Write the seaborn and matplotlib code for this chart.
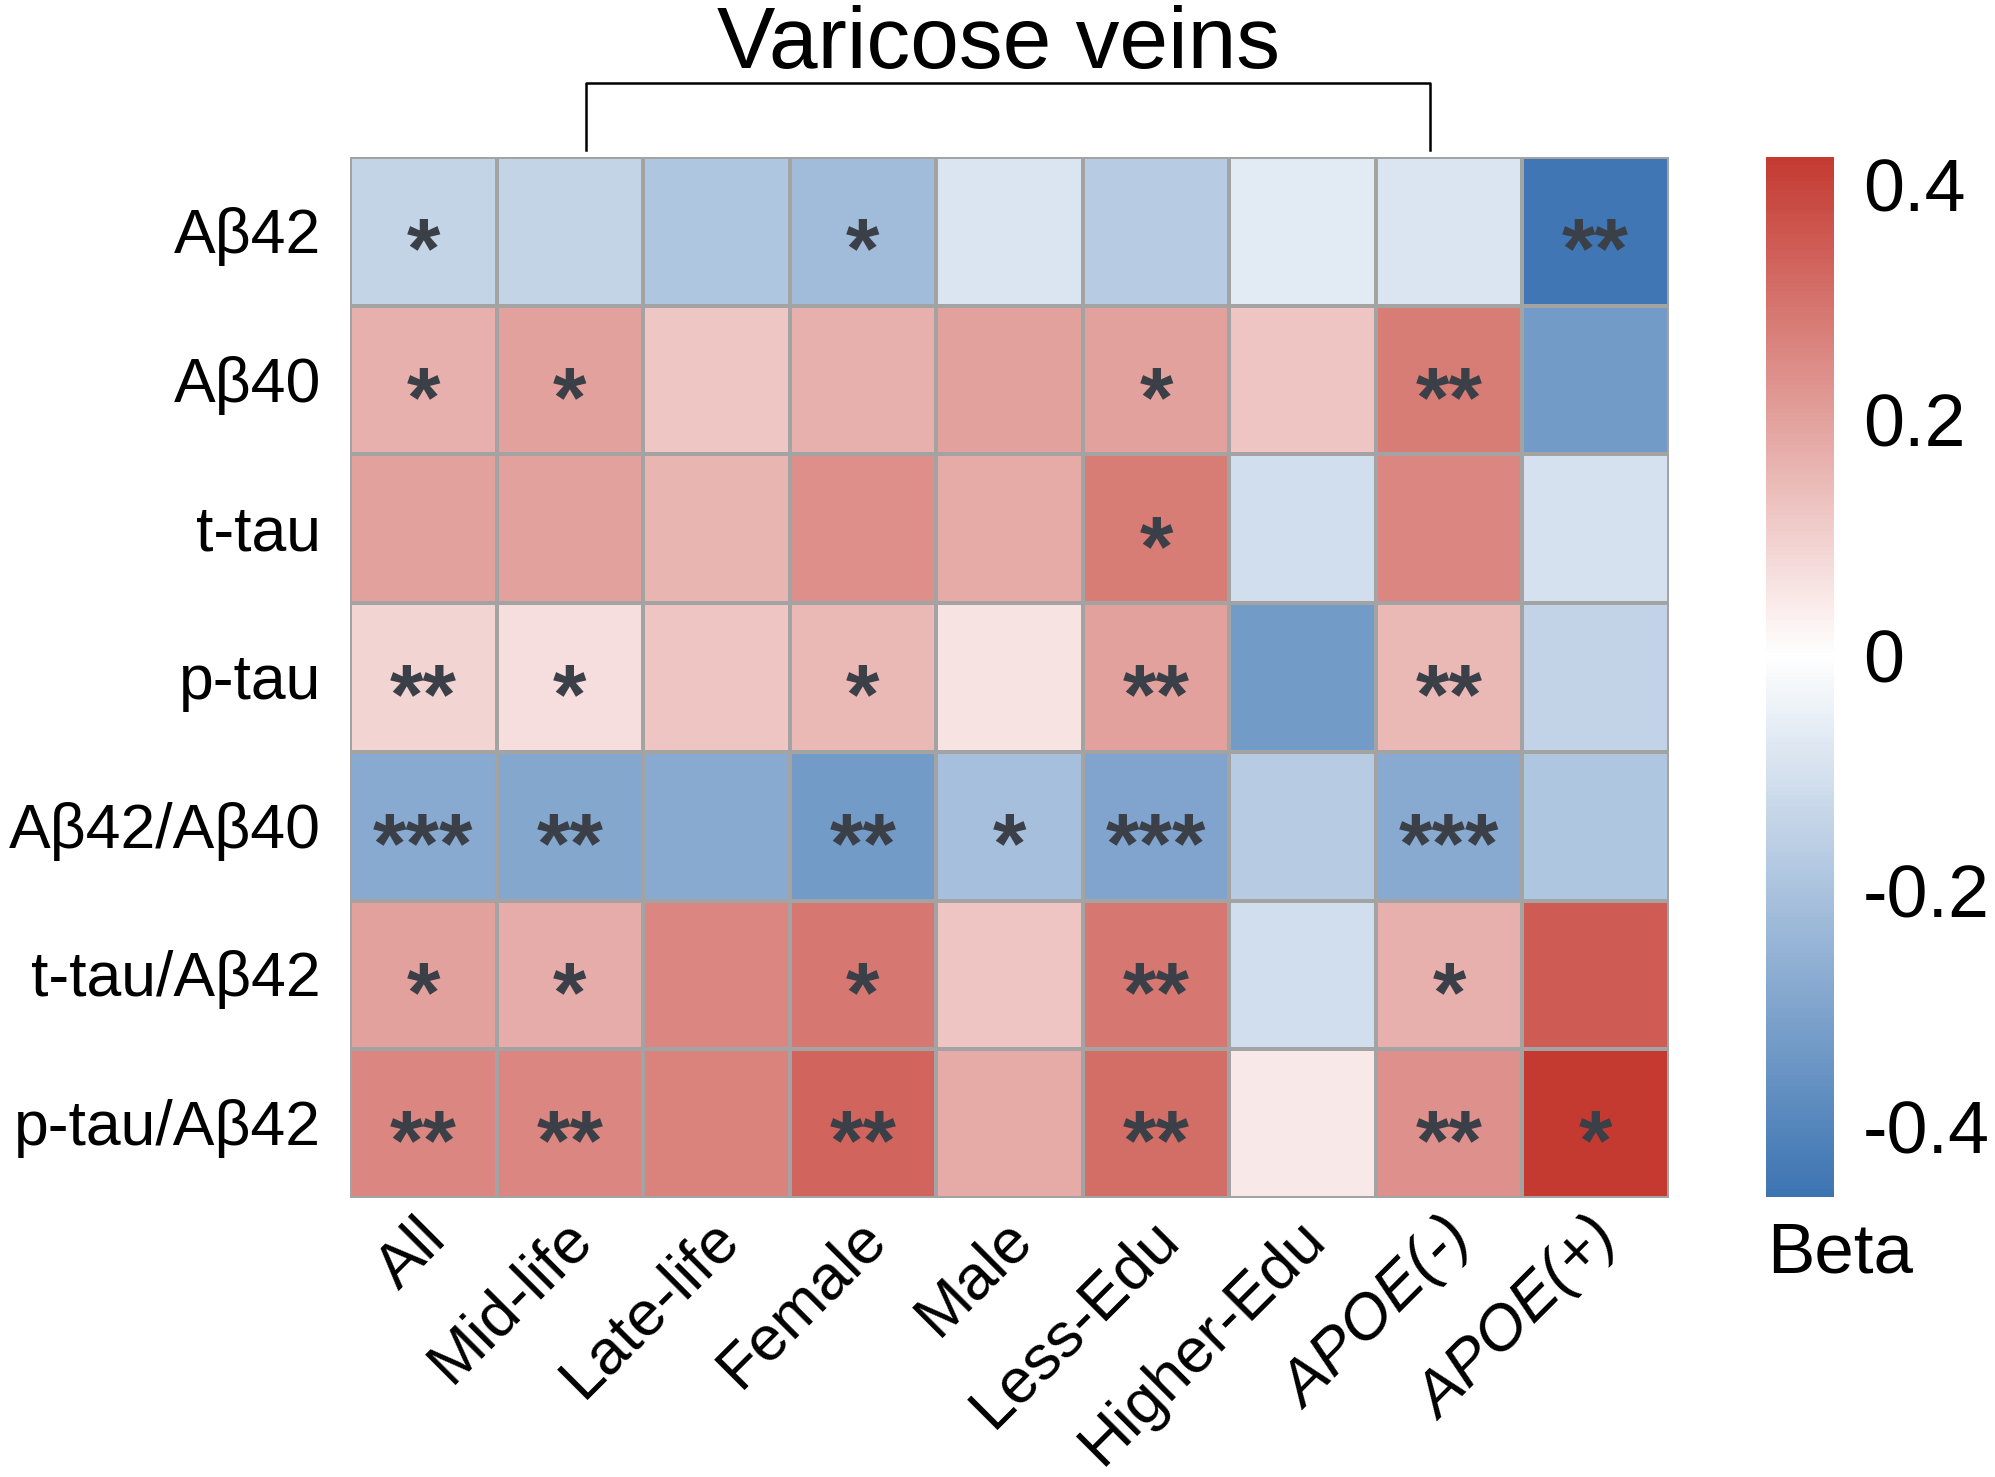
import numpy as np
import pandas as pd
import matplotlib
matplotlib.use("Agg")
import matplotlib.pyplot as plt
from matplotlib.colors import LinearSegmentedColormap
from matplotlib.transforms import ScaledTranslation
import seaborn as sns

# biomarkers (rows) and subgroups (columns)
markers = ["Aβ42", "Aβ40", "t-tau", "p-tau", "Aβ42/Aβ40", "t-tau/Aβ42", "p-tau/Aβ42"]
groups = ["All", "Mid-life", "Late-life", "Female", "Male", "Less-Edu", "Higher-Edu",
          "APOE(-)", "APOE(+)"]

# beta estimates
beta_ab42 = [-0.14, -0.14, -0.19, -0.22, -0.085, -0.17, -0.07, -0.085, -0.45]
beta_ab40 = [0.17, 0.20, 0.12, 0.17, 0.20, 0.20, 0.125, 0.28, -0.33]
beta_ttau = [0.20, 0.20, 0.16, 0.24, 0.18, 0.28, -0.11, 0.26, -0.10]
beta_ptau = [0.09, 0.07, 0.125, 0.15, 0.06, 0.20, -0.33, 0.15, -0.145]
beta_ratio = [-0.28, -0.29, -0.28, -0.33, -0.21, -0.30, -0.17, -0.28, -0.19]
beta_ttau_ab42 = [0.20, 0.175, 0.26, 0.29, 0.125, 0.29, -0.11, 0.17, 0.35]
beta_ptau_ab42 = [0.26, 0.26, 0.265, 0.33, 0.18, 0.31, 0.05, 0.235, 0.42]

# significance stars
sig_ab42 = ["*", "", "", "*", "", "", "", "", "**"]
sig_ab40 = ["*", "*", "", "", "", "*", "", "**", ""]
sig_ttau = ["", "", "", "", "", "*", "", "", ""]
sig_ptau = ["**", "*", "", "*", "", "**", "", "**", ""]
sig_ratio = ["***", "**", "", "**", "*", "***", "", "***", ""]
sig_ttau_ab42 = ["*", "*", "", "*", "", "**", "", "*", ""]
sig_ptau_ab42 = ["**", "**", "", "**", "", "**", "", "**", "*"]

cbar_ticks = [0.4, 0.2, 0, -0.2, -0.4]
cbar_labels = ["0.4", "0.2", "0", "-0.2", "-0.4"]
vmin, vmax = -0.46, 0.423

df = pd.DataFrame([beta_ab42, beta_ab40, beta_ttau, beta_ptau, beta_ratio,
                   beta_ttau_ab42, beta_ptau_ab42], index=markers, columns=groups)
stars = np.array([sig_ab42, sig_ab40, sig_ttau, sig_ptau, sig_ratio,
                  sig_ttau_ab42, sig_ptau_ab42])

plt.rcParams["font.family"] = ["Liberation Sans", "DejaVu Sans"]

mid = -vmin / (vmax - vmin)
cmap = LinearSegmentedColormap.from_list(
    "beta", [(0.0, "#3C74B2"), (mid, "#FFFFFF"), (1.0, "#C43A31")])

fig = plt.figure(figsize=(19.95, 14.77), dpi=100)
ax = fig.add_axes([0.17544, 0.18890, 0.66115, 0.70480])
cax = fig.add_axes([0.88521, 0.18957, 0.03409, 0.70413])

star_shift = ScaledTranslation(0, -0.46, fig.dpi_scale_trans)
sns.heatmap(df, ax=ax, cbar_ax=cax, cmap=cmap, vmin=vmin, vmax=vmax,
            linewidths=1.5, linecolor="#A3A3A3",
            annot=stars, fmt="",
            annot_kws={"color": "#3B3F47", "fontsize": 62, "fontweight": "bold",
                       "va": "baseline", "transform": ax.transData + star_shift})

# axes ticks
ax.tick_params(axis="both", length=0)
ax.tick_params(axis="y", pad=21, labelsize=45)
ax.tick_params(axis="x", pad=31, labelsize=45.5)
ax.set_xlabel("")
ax.set_ylabel("")
for lab in ax.get_yticklabels():
    lab.set_rotation(0)
    lab.set_ha("right")
    lab.set_transform(lab.get_transform() +
                      ScaledTranslation(0, -0.05, fig.dpi_scale_trans))
for i, lab in enumerate(ax.get_xticklabels()):
    lab.set_rotation(45)
    lab.set_rotation_mode("anchor")
    lab.set_ha("right")
    lab.set_va("baseline")
    if groups[i].startswith("APOE"):
        lab.set_fontstyle("italic")
    lab.set_transform(lab.get_transform() +
                      ScaledTranslation(0.25, 0, fig.dpi_scale_trans))

# colorbar
cax.set_yticks(cbar_ticks)
cax.set_yticklabels(cbar_labels)
cax.tick_params(length=0, pad=21, labelsize=53)
fig.text(0.8857, 0.13812, "Beta", fontsize=51, va="baseline", ha="left")

# bracket + title over the varicose-vein group
ax.plot([1.61, 1.61, 7.37, 7.37], [-0.05, -0.50, -0.50, -0.05],
        color="black", lw=1.8, clip_on=False)
fig.text(0.5003, 0.95396, "Varicose veins", fontsize=63, ha="center", va="baseline")

fig.savefig("out.png", dpi=100, facecolor="white")
